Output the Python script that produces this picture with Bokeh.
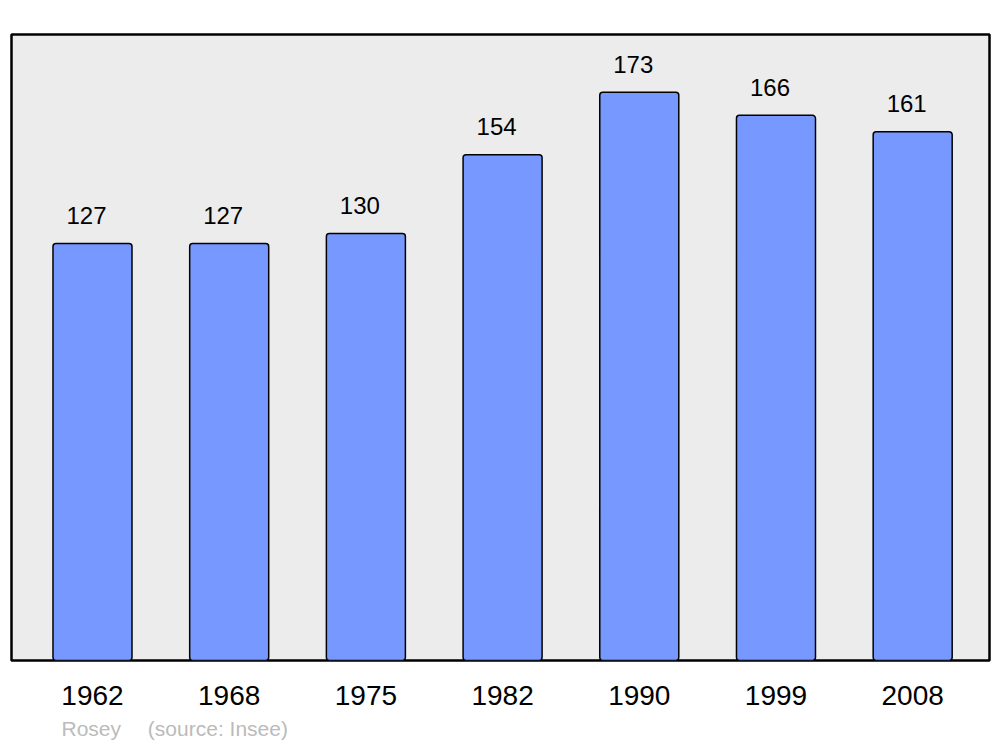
from bokeh.plotting import figure
from bokeh.models import ColumnDataSource, Range1d, FixedTicker, Title
from bokeh.core.properties import value
from bokeh.embed import file_html
from bokeh.resources import INLINE

years = ["1962", "1968", "1975", "1982", "1990", "1999", "2008"]
population = [127, 127, 130, 154, 173, 166, 161]
commune = "Rosey"
source_note = "(source: Insee)"

idx = list(range(len(years)))
src = ColumnDataSource(dict(x=idx, top=population, lab=[str(v) for v in population]))

FONT = "Liberation Sans"

p = figure(width=995, height=746, output_backend="svg", toolbar_location=None,
           x_range=Range1d(-0.5925, 6.562), y_range=Range1d(0, 190.6),
           min_border_left=11, min_border_right=6, min_border_top=34, min_border_bottom=86)
p.outline_line_color = "black"
p.outline_line_width = 2.5
p.background_fill_color = "#ececec"
p.border_fill_color = "white"
p.xgrid.visible = False
p.ygrid.visible = False
p.yaxis.visible = False

p.vbar(x="x", top="top", bottom=0, width=0.578, source=src,
       fill_color="#7799ff", line_color="black", line_width=1.5, border_radius=3)

p.text(x="x", y="top", text="lab", source=src, x_offset=-6, y_offset=-28,
       text_align="center", text_baseline="alphabetic",
       text_font=value(FONT), text_font_size="24px", text_color="black")

ax = p.xaxis[0]
ax.ticker = FixedTicker(ticks=idx)
ax.major_label_overrides = {i: y for i, y in zip(idx, years)}
ax.axis_line_color = None
ax.major_tick_line_color = None
ax.minor_tick_line_color = None
ax.major_label_text_font = FONT
ax.major_label_text_font_size = "28px"
ax.major_label_text_color = "black"
ax.major_label_standoff = 19

note = Title(text=commune + "\u2002\u2002\u00a0" + source_note, align="left", offset=50,
             text_font=FONT, text_font_size="21px", text_color="#bbbbbb",
             text_font_style="normal", standoff=14)
p.add_layout(note, "below")

open("out.html", "w").write(file_html(p, INLINE))
